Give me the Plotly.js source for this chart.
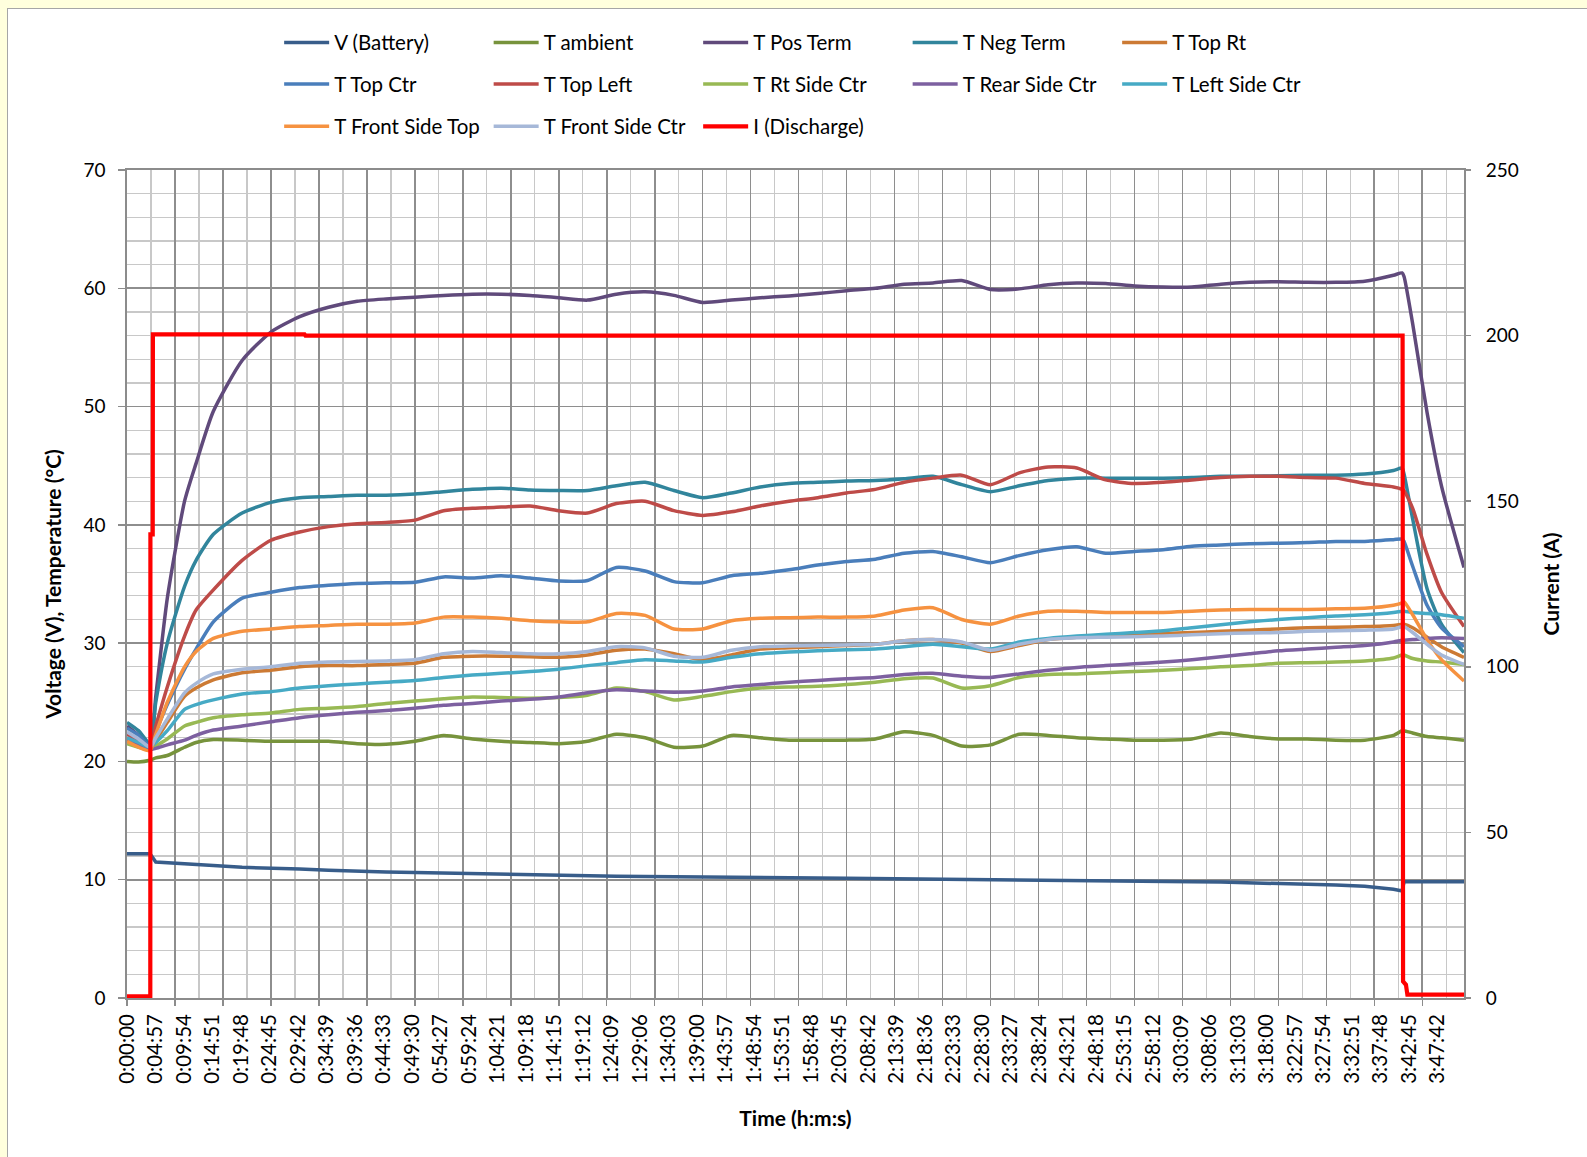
<!DOCTYPE html>
<html>
<head>
<meta charset="utf-8">
<script src="https://cdn.plot.ly/plotly-3.0.1.min.js"></script>
<style>
html,body{margin:0;padding:0;background:#FFFFDD;width:1587px;height:1157px;overflow:hidden;}
#frame{position:absolute;left:7px;top:8px;width:1580px;height:1149px;background:#ffffff;border-left:1px solid #A6A6A6;border-top:1px solid #A6A6A6;}
#chart{position:absolute;left:0;top:0;width:1580px;height:1149px;}
</style>
</head>
<body>
<div id="frame"><div id="chart"></div></div>
<script>
// ---- time base (seconds since start) ----
const timeSec = [0,120,240,300,420,600,720,900,1200,1500,1800,2100,2400,2700,3000,3300,3600,3900,4200,4500,4800,5100,5400,5700,6000,6300,6600,6900,7200,7500,7800,8100,8400,8700,9000,9300,9600,9900,10200,10500,10800,11100,11400,11700,12000,12300,12600,12900,13200,13290,13310,13400,13550,13700,13935];

// ---- series (left axis) ----
const vBattery = [12.2,12.2,12.2,11.5,11.45,11.35,11.3,11.2,11.05,11.0,10.9,10.8,10.7,10.65,10.6,10.55,10.5,10.45,10.4,10.35,10.3,10.3,10.28,10.27,10.25,10.22,10.2,10.18,10.15,10.13,10.1,10.05,10.03,10.0,10.0,9.95,9.95,9.93,9.9,9.88,9.85,9.82,9.8,9.75,9.7,9.65,9.55,9.45,9.2,9.05,9.82,9.82,9.82,9.82,9.82];
const tAmbient = [20.0,19.95,20.1,20.3,20.5,21.2,21.6,21.85,21.8,21.7,21.7,21.7,21.5,21.45,21.7,22.2,21.9,21.7,21.6,21.5,21.7,22.3,22.0,21.2,21.3,22.2,22.0,21.8,21.8,21.8,21.9,22.5,22.2,21.3,21.4,22.3,22.2,22.0,21.9,21.8,21.8,21.9,22.4,22.1,21.9,21.9,21.8,21.8,22.2,22.6,22.6,22.4,22.1,22.0,21.8];
const tPosTerm = [23.0,22.2,21.3,25.5,33.8,42.0,45.2,49.6,53.9,56.3,57.6,58.4,58.9,59.1,59.25,59.4,59.5,59.5,59.4,59.2,59.0,59.5,59.7,59.4,58.8,59.0,59.2,59.35,59.55,59.8,60.0,60.35,60.45,60.65,59.9,59.95,60.3,60.45,60.4,60.2,60.1,60.1,60.35,60.5,60.55,60.5,60.5,60.6,61.1,61.3,61.0,57.0,49.5,43.3,36.4];
const tNegTerm = [23.3,22.6,21.5,25.0,30.0,34.8,37.0,39.2,41.0,41.9,42.3,42.4,42.5,42.5,42.6,42.8,43.0,43.1,42.95,42.9,42.9,43.3,43.6,42.9,42.3,42.7,43.2,43.5,43.6,43.7,43.75,43.9,44.1,43.4,42.8,43.3,43.75,43.95,43.95,43.95,43.95,44.0,44.1,44.1,44.15,44.2,44.2,44.3,44.6,44.8,44.3,40.5,34.6,31.6,29.2];
const tTopRt = [22.0,21.4,21.0,21.8,23.3,25.5,26.2,26.9,27.5,27.7,28.0,28.1,28.1,28.2,28.3,28.8,28.9,28.9,28.85,28.8,29.0,29.4,29.5,29.1,28.6,29.0,29.5,29.6,29.7,29.8,29.9,30.2,30.3,30.0,29.3,29.8,30.3,30.5,30.6,30.7,30.8,30.9,31.0,31.1,31.2,31.3,31.35,31.4,31.5,31.6,31.6,31.3,30.5,29.7,28.8];
const tTopCtr = [22.8,22.2,21.3,22.5,24.8,27.8,29.5,31.8,33.8,34.3,34.7,34.9,35.05,35.1,35.15,35.6,35.5,35.7,35.5,35.25,35.3,36.4,36.1,35.2,35.1,35.7,35.9,36.2,36.6,36.9,37.1,37.6,37.75,37.3,36.8,37.4,37.9,38.15,37.6,37.75,37.9,38.2,38.3,38.4,38.45,38.5,38.6,38.6,38.75,38.8,38.6,36.5,33.2,31.3,29.7];
const tTopLeft = [22.3,21.8,21.2,23.0,26.3,30.6,32.8,34.5,37.0,38.7,39.4,39.85,40.1,40.2,40.4,41.2,41.4,41.5,41.6,41.2,41.0,41.8,42.0,41.2,40.8,41.1,41.6,42.0,42.3,42.7,43.0,43.6,43.95,44.2,43.4,44.4,44.9,44.8,43.8,43.5,43.6,43.8,44.0,44.1,44.1,44.0,43.95,43.5,43.2,43.0,42.9,41.4,37.5,34.3,31.4];
const tRtSideCtr = [21.5,21.2,21.0,21.3,21.9,23.0,23.3,23.7,23.95,24.1,24.4,24.5,24.65,24.9,25.1,25.3,25.45,25.4,25.35,25.4,25.6,26.2,25.9,25.2,25.5,25.9,26.2,26.3,26.35,26.5,26.7,27.0,27.05,26.2,26.4,27.1,27.35,27.4,27.5,27.6,27.7,27.85,28.0,28.1,28.3,28.35,28.4,28.5,28.75,29.0,29.0,28.7,28.5,28.4,28.2];
const tRearSideCtr = [21.8,21.4,21.0,21.1,21.4,21.8,22.2,22.65,23.0,23.35,23.7,23.95,24.15,24.3,24.5,24.75,24.9,25.1,25.25,25.45,25.8,26.05,25.95,25.85,25.95,26.3,26.5,26.7,26.85,27.0,27.1,27.35,27.45,27.2,27.1,27.4,27.7,27.95,28.1,28.25,28.4,28.6,28.85,29.1,29.35,29.5,29.65,29.8,30.1,30.25,30.25,30.3,30.4,30.45,30.4];
const tLeftSideCtr = [22.0,21.6,21.2,21.6,22.6,24.4,24.8,25.2,25.7,25.9,26.2,26.4,26.55,26.7,26.85,27.1,27.3,27.45,27.6,27.8,28.1,28.35,28.6,28.5,28.4,28.8,29.1,29.25,29.35,29.45,29.5,29.7,29.9,29.7,29.5,30.1,30.4,30.6,30.75,30.9,31.05,31.3,31.55,31.8,32.0,32.15,32.3,32.4,32.6,32.7,32.7,32.6,32.5,32.4,32.1];
const tFrontSideTop = [21.7,21.2,20.9,22.3,25.0,28.0,29.3,30.4,31.0,31.2,31.4,31.5,31.6,31.6,31.7,32.2,32.2,32.1,31.9,31.8,31.8,32.5,32.35,31.2,31.2,31.9,32.1,32.15,32.2,32.2,32.3,32.8,33.0,32.0,31.6,32.3,32.7,32.7,32.6,32.6,32.6,32.7,32.8,32.85,32.85,32.85,32.9,32.95,33.2,33.4,33.5,32.4,30.3,28.6,26.8];
const tFrontSideCtr = [22.5,21.9,21.2,22.0,23.6,25.8,26.6,27.4,27.8,28.0,28.3,28.4,28.45,28.5,28.6,29.1,29.3,29.2,29.1,29.1,29.3,29.7,29.6,28.9,28.8,29.4,29.7,29.75,29.8,29.85,29.9,30.2,30.3,30.1,29.4,29.9,30.3,30.45,30.5,30.55,30.6,30.7,30.8,30.85,30.9,31.0,31.05,31.1,31.2,31.4,31.4,30.9,29.9,29.0,28.2];

// ---- discharge current (right axis) ----
const currentTimeSec = [0,243,244,268,270,1850,1860,13295,13300,13330,13345,13935];
const currentA = [0.5,0.5,140,140,200.4,200.4,200,200,5,4,1,1];

// ---- x tick labels (h:m:s) ----
const timeLabels = ["0:00:00","0:04:57","0:09:54","0:14:51","0:19:48","0:24:45","0:29:42","0:34:39","0:39:36","0:44:33","0:49:30","0:54:27","0:59:24","1:04:21","1:09:18","1:14:15","1:19:12","1:24:09","1:29:06","1:34:03","1:39:00","1:43:57","1:48:54","1:53:51","1:58:48","2:03:45","2:08:42","2:13:39","2:18:36","2:23:33","2:28:30","2:33:27","2:38:24","2:43:21","2:48:18","2:53:15","2:58:12","3:03:09","3:08:06","3:13:03","3:18:00","3:22:57","3:27:54","3:32:51","3:37:48","3:42:45","3:47:42"];
const timeEndSec = 13935;

function hmsToSec(s){const p=s.split(':').map(Number);return p[0]*3600+p[1]*60+p[2];}

const FONT = 'Lato, "Open Sans", sans-serif';
const seriesDefs = [
  {name:'V (Battery)', y:vBattery, color:'#385D8A', legend:'legend', shape:'linear'},
  {name:'T ambient', y:tAmbient, color:'#77933C', legend:'legend', shape:'spline'},
  {name:'T Pos Term', y:tPosTerm, color:'#604A7B', legend:'legend', shape:'spline'},
  {name:'T Neg Term', y:tNegTerm, color:'#31859C', legend:'legend', shape:'spline'},
  {name:'T Top Rt', y:tTopRt, color:'#CC7A34', legend:'legend', shape:'spline'},
  {name:'T Top Ctr', y:tTopCtr, color:'#4A7EBB', legend:'legend2', shape:'spline'},
  {name:'T Top Left', y:tTopLeft, color:'#BE4B48', legend:'legend2', shape:'spline'},
  {name:'T Rt Side Ctr', y:tRtSideCtr, color:'#98B954', legend:'legend2', shape:'spline'},
  {name:'T Rear Side Ctr', y:tRearSideCtr, color:'#7D60A0', legend:'legend2', shape:'spline'},
  {name:'T Left Side Ctr', y:tLeftSideCtr, color:'#46AAC5', legend:'legend2', shape:'spline'},
  {name:'T Front Side Top', y:tFrontSideTop, color:'#F69240', legend:'legend3', shape:'spline'},
  {name:'T Front Side Ctr', y:tFrontSideCtr, color:'#A6B8D8', legend:'legend3', shape:'spline'}
];

const traces = seriesDefs.map(s => ({
  type:'scatter', mode:'lines', name:s.name, x:timeSec, y:s.y,
  xaxis:'x', yaxis:'y', legend:s.legend,
  line:{color:s.color, width:3.5, shape:s.shape, smoothing:0.6}, hoverinfo:'skip'
}));
traces.push({
  type:'scatter', mode:'lines', name:'I (Discharge)', x:currentTimeSec, y:currentA,
  xaxis:'x', yaxis:'y2', legend:'legend3',
  line:{color:'#FF0000', width:4.2}, hoverinfo:'skip'
});
// carrier for the label axis
traces.push({type:'scatter', mode:'lines', x:[0], y:[null], xaxis:'x2', yaxis:'y', showlegend:false, hoverinfo:'skip'});

const legendCommon = {orientation:'h', xanchor:'left', yanchor:'middle', x:0.1138, itemwidth:45, entrywidth:149.5,
  font:{family:FONT, size:20.5, color:'#000'}, bgcolor:'rgba(0,0,0,0)', borderwidth:0};

const layout = {
  width:1580, height:1149,
  margin:{l:118.7, r:123.7, t:161, b:159.5, pad:0},
  paper_bgcolor:'rgba(0,0,0,0)', plot_bgcolor:'#FFFFFF',
  font:{family:FONT, size:19, color:'#000'},
  showlegend:true,
  xaxis:{range:[0,timeEndSec], tickmode:'linear', tick0:0, dtick:500, showticklabels:false,
    ticks:'outside', ticklen:6, tickwidth:1.5, tickcolor:'#8C8C8C',
    showgrid:true, gridcolor:'#8E8E8E', gridwidth:1.6,
    minor:{tickmode:'linear', tick0:0, dtick:250, showgrid:true, gridcolor:'#C8C8C8', gridwidth:1.3, ticks:''},
    showline:true, linecolor:'#8C8C8C', linewidth:1.6, mirror:true, zeroline:false, fixedrange:true},
  xaxis2:{overlaying:'x', anchor:'y', side:'bottom', range:[0,timeEndSec],
    tickmode:'array', tickvals:timeLabels.map(hmsToSec), ticktext:timeLabels, tickangle:-90,
    tickfont:{family:FONT, size:20.5, color:'#000'}, ticks:'', ticklabelstandoff:11,
    showgrid:false, zeroline:false, showline:false, fixedrange:true,
    title:{text:'Time (h:m:s)', font:{family:FONT, size:21, weight:'bold', color:'#000'}, standoff:28}},
  yaxis:{range:[0,70], tickmode:'linear', tick0:0, dtick:10,
    ticks:'outside', ticklen:7, tickwidth:1.5, tickcolor:'#8C8C8C', ticklabelstandoff:9,
    tickfont:{family:FONT, size:19, color:'#000'},
    showgrid:true, gridcolor:'#8E8E8E', gridwidth:1.6,
    minor:{tickmode:'linear', tick0:0, dtick:2, showgrid:true, gridcolor:'#C8C8C8', gridwidth:1.3, ticks:''},
    showline:true, linecolor:'#8C8C8C', linewidth:1.6, mirror:true, zeroline:false, fixedrange:true,
    title:{text:'Voltage (V), Temperature (°C)', font:{family:FONT, size:21, weight:'bold', color:'#000'}, standoff:16}},
  yaxis2:{overlaying:'y', side:'right', range:[0,250], tickmode:'linear', tick0:0, dtick:50,
    ticks:'outside', ticklen:6, tickwidth:1.5, tickcolor:'#8C8C8C', ticklabelstandoff:11,
    tickfont:{family:FONT, size:19, color:'#000'},
    showgrid:false, zeroline:false, showline:false, fixedrange:true,
    title:{text:'Current (A)', font:{family:FONT, size:21, weight:'bold', color:'#000'}, standoff:26}},
  legend: Object.assign({}, legendCommon, {y:1.1539}),
  legend2: Object.assign({}, legendCommon, {y:1.1038}),
  legend3: Object.assign({}, legendCommon, {y:1.0525}),
  hovermode:false
};

Plotly.newPlot('chart', traces, layout, {displayModeBar:false, staticPlot:true});
</script>
</body>
</html>
